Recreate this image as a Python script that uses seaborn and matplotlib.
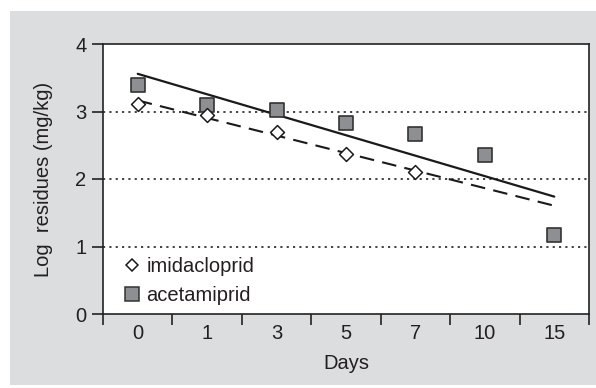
import numpy as np
import pandas as pd
import matplotlib
matplotlib.use("Agg")
import matplotlib.pyplot as plt
import seaborn as sns
from matplotlib.patches import Rectangle
from matplotlib.lines import Line2D

days = ["0", "1", "3", "5", "7", "10", "15"]
imidacloprid = [3.11, 2.95, 2.69, 2.37, 2.10]
acetamiprid = [3.39, 3.10, 3.02, 2.83, 2.67, 2.36, 1.17]
yticks = [0, 1, 2, 3, 4]

sns.set_style("ticks")
plt.rcParams["font.family"] = ["Liberation Sans", "DejaVu Sans"]
TXT = "#231f20"
FS = 14.5

W, H = 596, 388
fig = plt.figure(figsize=(W / 100, H / 100), dpi=100, facecolor="white")
# gray panel
fig.patches.append(Rectangle((10 / W, 1 - 385 / H), (596 - 10) / W, (385 - 11) / H,
                             transform=fig.transFigure, facecolor="#dcdddf",
                             edgecolor="none", zorder=-5))
ax = fig.add_axes([103 / W, 1 - 314 / H, (589 - 103) / W, (314 - 44) / H])
ax.set_zorder(1)
ax.set_facecolor("white")

df_a = pd.DataFrame({"x": np.arange(len(acetamiprid)), "y": acetamiprid})
df_i = pd.DataFrame({"x": np.arange(len(imidacloprid)), "y": imidacloprid})

# trend lines (linear fits over category index)
xs = np.arange(len(days))
pa = np.polyfit(df_a["x"], df_a["y"], 1)
pi = np.polyfit(df_i["x"], df_i["y"], 1)
ax.plot(xs, np.polyval(pa, xs), color="#1a1a1a", lw=1.6, zorder=2)
ax.plot(xs, np.polyval(pi, xs), color="#1a1a1a", lw=1.5, ls=(0, (7, 4)), zorder=2)

sns.scatterplot(data=df_a, x="x", y="y", marker="s", s=115, color="#8e8f93",
                edgecolor="#333333", linewidth=1.2, ax=ax, zorder=3, legend=False)
sns.scatterplot(data=df_i, x="x", y="y", marker="D", s=50, color="white",
                edgecolor="#1a1a1a", linewidth=1.1, ax=ax, zorder=4, legend=False)

for yv in [1, 2, 3]:
    ax.axhline(yv, color="#222222", lw=1.2, ls=(0, (1.3, 2.5)), zorder=1)

ax.set_xlim(-0.5, len(days) - 0.5)
ax.set_ylim(0, 4)
ax.set_yticks(yticks)
ax.set_yticklabels([str(v) for v in yticks], fontsize=FS, color=TXT)
ax.set_xticks(xs)
ax.set_xticklabels(days, fontsize=FS, color=TXT)
ax.set_xticks(np.arange(-0.5, len(days)), minor=True)
ax.tick_params(axis="x", which="major", length=0, pad=7)
ax.tick_params(axis="x", which="minor", length=8, width=1.2, direction="out", color="#222222")
ax.tick_params(axis="y", which="major", length=8, width=1.2, direction="out", color="#222222", pad=4)

for s in ax.spines.values():
    s.set_visible(True)
    s.set_color("#222222")
    s.set_linewidth(1.2)

ax.set_xlabel("Days", fontsize=FS, color=TXT, labelpad=8)
ax.set_ylabel("Log  residues (mg/kg)", fontsize=FS, color=TXT, labelpad=16)

handles = [
    Line2D([], [], marker="D", ls="none", markersize=6.5, markerfacecolor="white",
           markeredgecolor="#1a1a1a", markeredgewidth=1.1),
    Line2D([], [], marker="s", ls="none", markersize=10, markerfacecolor="#8e8f93",
           markeredgecolor="#333333", markeredgewidth=1.1),
]
ax.legend(handles, ["imidacloprid", "acetamiprid"], loc="lower left",
          bbox_to_anchor=(0.006, -0.035), frameon=False, fontsize=FS,
          handlelength=0.8, handletextpad=0.3, labelspacing=0.5, labelcolor=TXT)

fig.savefig("out.png", dpi=100, facecolor="white")
